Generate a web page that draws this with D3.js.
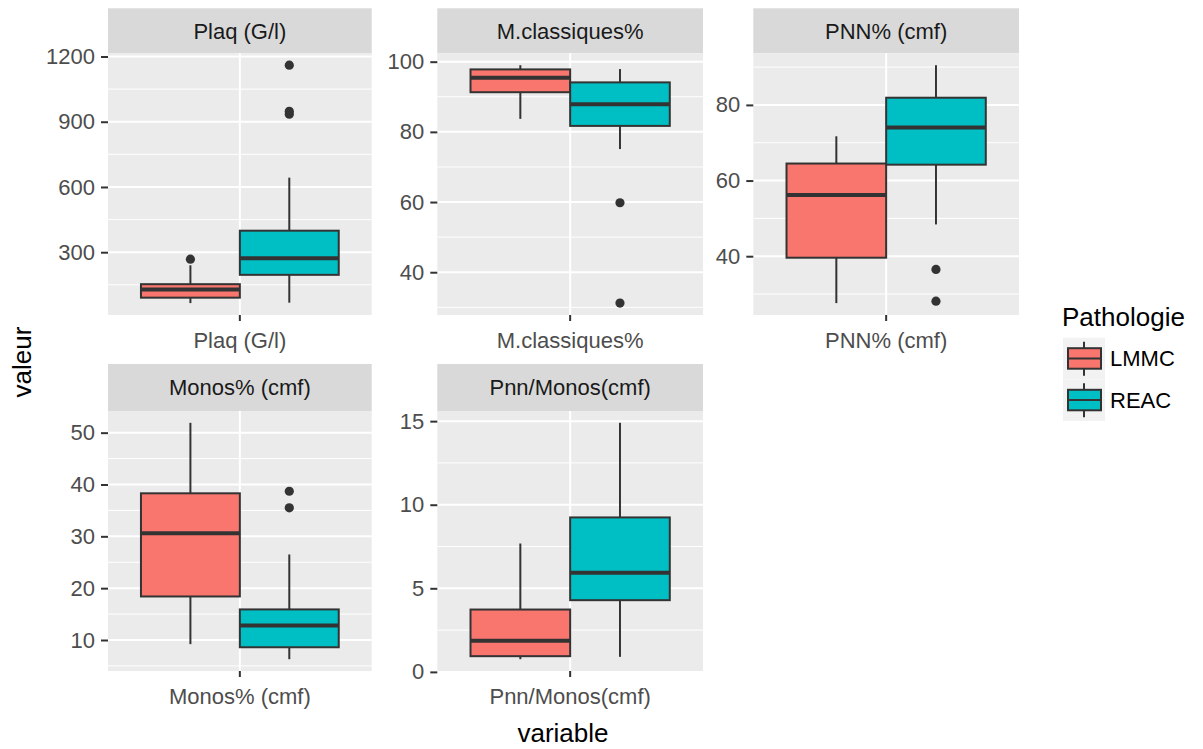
<!DOCTYPE html>
<html>
<head>
<meta charset="utf-8">
<script src="https://cdn.jsdelivr.net/npm/d3@7"></script>
<style>
  body { margin: 0; background: #fff; }
  svg text { font-family: "Liberation Sans", Arial, sans-serif; }
</style>
</head>
<body>
<div id="chart"></div>
<script>
// facets (one variable per panel)
var variables = ["Plaq (G/l)", "M.classiques%", "PNN% (cmf)", "Monos% (cmf)", "Pnn/Monos(cmf)"];
var groups = ["LMMC", "REAC"];
var colors = ["#F8766D", "#00BFC4"];

// box statistics: whisker low, Q1, median, Q3, whisker high
var lmmcLow  = [66, 83.7, 27.6, 9.2, 0.76];
var lmmcQ1   = [91, 91.3, 39.6, 18.4, 0.94];
var lmmcMed  = [128, 95.4, 56.2, 30.6, 1.86];
var lmmcQ3   = [153, 97.8, 64.5, 38.3, 3.73];
var lmmcHigh = [240, 99.0, 71.7, 51.9, 7.68];
var lmmcOut  = [[268], [], [], [], []];

var reacLow  = [68, 75.1, 48.4, 6.3, 0.9];
var reacQ1   = [196, 81.7, 64.2, 8.6, 4.29];
var reacMed  = [272, 87.9, 74.0, 12.8, 5.93];
var reacQ3   = [399, 94.1, 81.9, 15.9, 9.24];
var reacHigh = [643, 97.9, 90.5, 26.5, 14.9];
var reacOut  = [[935, 948, 1160], [31.2, 59.8], [28.1, 36.5], [35.5, 38.7], []];

// y tick labels per panel
var yTicks = [[300, 600, 900, 1200], [40, 60, 80, 100], [40, 60, 80], [10, 20, 30, 40, 50], [0, 5, 10, 15]];

(function () {
  var w = 1203, h = 749;

  var svg = d3.select("#chart").append("svg")
      .attr("width", w)
      .attr("height", h);

  // panel boxes (plot area), strips sit above
  var cols = [[108, 371.7], [437.3, 703], [753.3, 1019]];
  var rows = [[8.3, 53.3, 315], [364, 411, 671]];

  var stats = [
    {low: lmmcLow, q1: lmmcQ1, med: lmmcMed, q3: lmmcQ3, high: lmmcHigh, out: lmmcOut},
    {low: reacLow, q1: reacQ1, med: reacMed, q3: reacQ3, high: reacHigh, out: reacOut}
  ];

  var dark = "#333333";

  variables.forEach(function (v, i) {
    var c = cols[i % 3], r = rows[Math.floor(i / 3)];
    var x0 = c[0], x1 = c[1], sTop = r[0], pTop = r[1], pBot = r[2];

    var all = [];
    stats.forEach(function (s) {
      all.push(s.low[i], s.high[i]);
      s.out[i].forEach(function (o) { all.push(o); });
    });
    var mn = d3.min(all), mx = d3.max(all), pad = (mx - mn) * 0.05;

    var y = d3.scaleLinear().domain([mn - pad, mx + pad]).range([pBot, pTop]);
    var x = d3.scaleLinear().domain([0.4, 1.6]).range([x0, x1]);

    var g = svg.append("g");

    // strip
    g.append("rect")
        .attr("x", x0).attr("y", sTop)
        .attr("width", x1 - x0).attr("height", pTop - sTop)
        .attr("fill", "#D9D9D9");
    g.append("text")
        .attr("x", (x0 + x1) / 2).attr("y", (sTop + pTop) / 2)
        .attr("dy", "0.36em")
        .attr("text-anchor", "middle")
        .attr("font-size", "22px")
        .attr("fill", "#1A1A1A")
        .text(v);

    // panel
    g.append("rect")
        .attr("x", x0).attr("y", pTop)
        .attr("width", x1 - x0).attr("height", pBot - pTop)
        .attr("fill", "#EBEBEB");

    var major = yTicks[i];
    var step = major[1] - major[0];
    var minor = [];
    for (var k = -1; k < major.length; k++) {
      var m = major[0] + step * (k + 0.5);
      var d = y.domain();
      if (m >= d[0] && m <= d[1]) minor.push(m);
    }

    g.selectAll(".minor")
        .data(minor)
        .enter().append("line")
        .attr("x1", x0).attr("x2", x1)
        .attr("y1", function (d) { return y(d); })
        .attr("y2", function (d) { return y(d); })
        .attr("stroke", "#fff").attr("stroke-width", 1);

    g.selectAll(".major")
        .data(major)
        .enter().append("line")
        .attr("x1", x0).attr("x2", x1)
        .attr("y1", function (d) { return y(d); })
        .attr("y2", function (d) { return y(d); })
        .attr("stroke", "#fff").attr("stroke-width", 2);

    g.append("line")
        .attr("x1", x(1)).attr("x2", x(1))
        .attr("y1", pTop).attr("y2", pBot)
        .attr("stroke", "#fff").attr("stroke-width", 2);

    // y axis
    var yAxis = d3.axisLeft(y).tickValues(major).tickFormat(d3.format("d"))
        .tickSize(7).tickPadding(6);
    var ya = g.append("g").attr("transform", "translate(" + x0 + ",0)").call(yAxis);
    ya.select(".domain").remove();
    ya.selectAll("line").attr("stroke", dark).attr("stroke-width", 2);
    ya.selectAll("text").attr("font-size", "22px").attr("fill", "#4D4D4D")
        .attr("font-family", "Liberation Sans, Arial, sans-serif");

    // x axis (single category)
    g.append("line")
        .attr("x1", x(1)).attr("x2", x(1))
        .attr("y1", pBot).attr("y2", pBot + 6)
        .attr("stroke", dark).attr("stroke-width", 2);
    g.append("text")
        .attr("x", x(1)).attr("y", pBot + 25)
        .attr("dy", "0.36em")
        .attr("text-anchor", "middle")
        .attr("font-size", "22px")
        .attr("fill", "#4D4D4D")
        .text(v);

    // boxes
    stats.forEach(function (s, j) {
      var cx = 1 + (j === 0 ? -0.225 : 0.225);
      var bl = x(cx - 0.225), br = x(cx + 0.225), xc = x(cx);
      var bg = g.append("g");

      bg.append("line")
          .attr("x1", xc).attr("x2", xc)
          .attr("y1", y(s.q3[i])).attr("y2", y(s.high[i]))
          .attr("stroke", dark).attr("stroke-width", 2);
      bg.append("line")
          .attr("x1", xc).attr("x2", xc)
          .attr("y1", y(s.q1[i])).attr("y2", y(s.low[i]))
          .attr("stroke", dark).attr("stroke-width", 2);
      bg.append("rect")
          .attr("x", bl).attr("y", y(s.q3[i]))
          .attr("width", br - bl).attr("height", y(s.q1[i]) - y(s.q3[i]))
          .attr("fill", colors[j])
          .attr("stroke", dark).attr("stroke-width", 2);
      bg.append("line")
          .attr("x1", bl).attr("x2", br)
          .attr("y1", y(s.med[i])).attr("y2", y(s.med[i]))
          .attr("stroke", dark).attr("stroke-width", 4);
      bg.selectAll("circle")
          .data(s.out[i])
          .enter().append("circle")
          .attr("cx", xc)
          .attr("cy", function (d) { return y(d); })
          .attr("r", 4.6)
          .attr("fill", dark);
    });
  });

  // axis titles
  svg.append("text")
      .attr("x", 563).attr("y", 733)
      .attr("dy", "0.36em")
      .attr("text-anchor", "middle")
      .attr("font-size", "26px")
      .attr("fill", "#000")
      .text("variable");
  svg.append("text")
      .attr("transform", "translate(22,362) rotate(-90)")
      .attr("dy", "0.36em")
      .attr("text-anchor", "middle")
      .attr("font-size", "26px")
      .attr("fill", "#000")
      .text("valeur");

  // legend
  var lg = svg.append("g");
  lg.append("text")
      .attr("x", 1062).attr("y", 317)
      .attr("dy", "0.36em")
      .attr("font-size", "26px")
      .attr("fill", "#000")
      .text("Pathologie");

  groups.forEach(function (gname, j) {
    var ky = 337.7 + j * 41.6;
    lg.append("rect")
        .attr("x", 1063).attr("y", ky)
        .attr("width", 42).attr("height", 41.6)
        .attr("fill", "#F2F2F2");
    lg.append("line")
        .attr("x1", 1084).attr("x2", 1084)
        .attr("y1", ky + 4).attr("y2", ky + 38)
        .attr("stroke", dark).attr("stroke-width", 2);
    lg.append("rect")
        .attr("x", 1068).attr("y", ky + 10.5)
        .attr("width", 33).attr("height", 20.5)
        .attr("fill", colors[j])
        .attr("stroke", dark).attr("stroke-width", 2);
    lg.append("line")
        .attr("x1", 1068).attr("x2", 1101)
        .attr("y1", ky + 20.8).attr("y2", ky + 20.8)
        .attr("stroke", dark).attr("stroke-width", 2);
    lg.append("text")
        .attr("x", 1110).attr("y", ky + 20.8)
        .attr("dy", "0.36em")
        .attr("font-size", "22px")
        .attr("fill", "#000")
        .text(gname);
  });
})();
</script>
</body>
</html>
